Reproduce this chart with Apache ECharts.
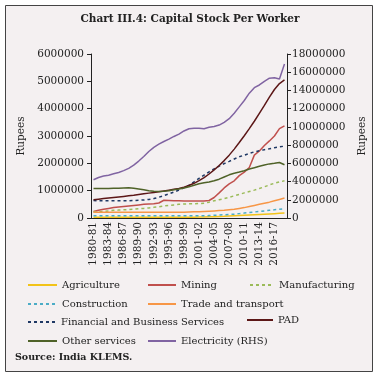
<!DOCTYPE html>
<html>
<head>
<meta charset="utf-8">
<script src="https://cdn.jsdelivr.net/npm/echarts@6/dist/echarts.min.js"></script>
<style>
html, body { margin: 0; padding: 0; background: #ffffff; }
#chart { width: 380px; height: 377px; }
</style>
</head>
<body>
<div id="chart"></div>
<script>
var years = ['1980-81','1981-82','1982-83','1983-84','1984-85','1985-86','1986-87','1987-88','1988-89','1989-90',
	'1990-91','1991-92','1992-93','1993-94','1994-95','1995-96','1996-97','1997-98','1998-99','1999-00',
	'2000-01','2001-02','2002-03','2003-04','2004-05','2005-06','2006-07','2007-08','2008-09','2009-10',
	'2010-11','2011-12','2012-13','2013-14','2014-15','2015-16','2016-17','2017-18','2018-19'];

var agriculture = [30000,30000,30000,30000,30000,30000,30000,30000,30000,30000,
	30000,30000,30000,30000,30000,30000,30000,30000,30000,30000,
	30000,35000,40000,45000,50000,55000,60000,70000,80000,90000,
	100000,110000,120000,130000,140000,150000,160000,170000,180000];
var mining = [240000,280000,320000,350000,380000,400000,420000,440000,460000,480000,
	500000,510000,520000,550000,650000,640000,630000,630000,620000,620000,
	620000,620000,620000,640000,750000,920000,1100000,1250000,1360000,1550000,
	1680000,1850000,2300000,2450000,2650000,2820000,3000000,3270000,3370000];
var manufacturing = [220000,230000,240000,260000,280000,290000,300000,310000,320000,340000,
	350000,370000,390000,410000,440000,460000,480000,500000,510000,520000,
	520000,530000,540000,580000,630000,670000,710000,760000,810000,860000,
	920000,970000,1020000,1080000,1140000,1210000,1270000,1320000,1360000];
var construction = [80000,80000,80000,80000,80000,80000,80000,80000,80000,80000,
	80000,80000,80000,80000,80000,80000,80000,80000,80000,80000,
	80000,80000,80000,90000,100000,110000,120000,130000,140000,160000,
	180000,200000,220000,240000,260000,280000,300000,320000,340000];
var trade = [210000,210000,210000,210000,210000,210000,210000,210000,210000,210000,
	210000,210000,210000,210000,210000,210000,210000,210000,210000,220000,
	230000,230000,240000,250000,260000,270000,280000,300000,320000,350000,
	380000,420000,460000,500000,540000,580000,630000,680000,730000];
var financial = [640000,630000,630000,630000,630000,630000,630000,630000,640000,650000,
	660000,680000,710000,760000,820000,880000,950000,1020000,1110000,1200000,
	1320000,1450000,1570000,1690000,1800000,1900000,1990000,2070000,2160000,2240000,
	2300000,2360000,2420000,2460000,2500000,2530000,2570000,2600000,2630000];
var pad = [670000,690000,710000,730000,750000,770000,790000,810000,830000,860000,
	890000,910000,930000,960000,990000,1020000,1050000,1080000,1130000,1190000,
	1270000,1370000,1480000,1610000,1760000,1920000,2100000,2300000,2520000,2760000,
	3010000,3270000,3540000,3830000,4120000,4420000,4700000,4920000,5050000];
var otherServices = [1080000,1080000,1080000,1080000,1090000,1090000,1100000,1110000,1090000,1060000,
	1030000,1000000,980000,970000,980000,1000000,1030000,1060000,1100000,1140000,
	1200000,1250000,1290000,1320000,1360000,1420000,1500000,1580000,1640000,1680000,
	1730000,1790000,1840000,1890000,1940000,1980000,2000000,2030000,1950000];
var electricity = [4200000,4450000,4600000,4700000,4850000,5000000,5200000,5450000,5800000,6250000,
	6750000,7300000,7750000,8100000,8400000,8650000,8950000,9200000,9550000,9800000,
	9850000,9850000,9800000,9950000,10050000,10200000,10500000,10900000,11500000,12200000,
	12900000,13700000,14300000,14600000,15000000,15350000,15400000,15250000,16900000];

var serif = 'DejaVu Serif';

function makeSeries(name, data, color, dashed, axis) {
	return {
		name: name,
		type: 'line',
		yAxisIndex: axis || 0,
		symbol: 'none',
		data: data,
		lineStyle: {color: color, width: 1.5, type: dashed ? [3, 3] : 'solid'},
		itemStyle: {color: color}
	};
}

// 图例位置按原图逐个摆放
function makeLegend(name, left, top, width) {
	return {
		data: [name],
		left: left,
		top: top,
		itemWidth: width,
		itemHeight: 10,
		itemGap: 0,
		padding: 0,
		itemStyle: {opacity: 0},
		textStyle: {fontFamily: serif, fontSize: 10, color: '#222'}
	};
}

function plainNumber(v) {
	return String(v);
}

var dom = document.getElementById('chart');
var myChart = echarts.init(dom);

var option = {
	animation: false,
	backgroundColor: '#ffffff',
	graphic: [
		{
			type: 'rect',
			shape: {x: 5.5, y: 5.5, width: 367, height: 366},
			style: {fill: '#f4f0f1', stroke: '#444', lineWidth: 1},
			z: -10
		},
		{
			type: 'text',
			left: 15,
			top: 353,
			style: {text: 'Source: India KLEMS.', font: 'bold 9.5px "DejaVu Serif"', fill: '#222'}
		}
	],
	title: {
		text: 'Chart III.4: Capital Stock Per Worker',
		left: 'center',
		top: 9,
		textStyle: {fontFamily: serif, fontSize: 10.5, fontWeight: 'bold', color: '#222'}
	},
	legend: [
		makeLegend('Agriculture', 27, 280, 29),
		makeLegend('Mining', 147, 280, 28),
		makeLegend('Manufacturing', 249, 280, 24),
		makeLegend('Construction', 27, 299, 29),
		makeLegend('Trade and transport', 147, 299, 28),
		makeLegend('Financial and Business Services', 27, 317, 28),
		makeLegend('PAD', 246, 315, 26),
		makeLegend('Other services', 27, 336, 29),
		makeLegend('Electricity (RHS)', 147, 336, 28)
	],
	grid: {left: 91, right: 93, top: 54, bottom: 159},
	xAxis: {
		type: 'category',
		data: years,
		boundaryGap: true,
		axisLine: {lineStyle: {color: '#222', width: 1}},
		axisTick: {interval: 0, length: 4, lineStyle: {color: '#222'}},
		axisLabel: {interval: 2, rotate: 90, margin: 4, fontFamily: serif, fontSize: 10.5, color: '#222'}
	},
	yAxis: [
		{
			type: 'value',
			min: 0,
			max: 6000000,
			interval: 1000000,
			name: 'Rupees',
			nameLocation: 'middle',
			nameGap: 56,
			nameRotate: 90,
			nameTextStyle: {fontFamily: serif, fontSize: 10.5, color: '#222'},
			splitLine: {show: false},
			axisLine: {show: true, lineStyle: {color: '#222', width: 1}},
			axisTick: {show: true, length: 4, lineStyle: {color: '#222'}},
			axisLabel: {margin: 7, formatter: plainNumber, fontFamily: serif, fontSize: 10.5, color: '#222'}
		},
		{
			type: 'value',
			min: 0,
			max: 18000000,
			interval: 2000000,
			name: 'Rupees',
			nameLocation: 'middle',
			nameGap: 58,
			nameRotate: 90,
			nameTextStyle: {fontFamily: serif, fontSize: 10.5, color: '#222'},
			splitLine: {show: false},
			axisLine: {show: true, lineStyle: {color: '#222', width: 1}},
			axisTick: {show: true, length: 4, lineStyle: {color: '#222'}},
			axisLabel: {margin: 5, formatter: plainNumber, fontFamily: serif, fontSize: 10.5, color: '#222'}
		}
	],
	series: [
		makeSeries('Agriculture', agriculture, '#f2c318', false),
		makeSeries('Mining', mining, '#c0504d', false),
		makeSeries('Manufacturing', manufacturing, '#9bbb59', true),
		makeSeries('Construction', construction, '#4bacc6', true),
		makeSeries('Trade and transport', trade, '#f79646', false),
		makeSeries('Financial and Business Services', financial, '#1f3864', true),
		makeSeries('PAD', pad, '#5c1717', false),
		makeSeries('Other services', otherServices, '#4f6228', false),
		makeSeries('Electricity (RHS)', electricity, '#8064a2', false, 1)
	]
};

myChart.setOption(option);
</script>
</body>
</html>
